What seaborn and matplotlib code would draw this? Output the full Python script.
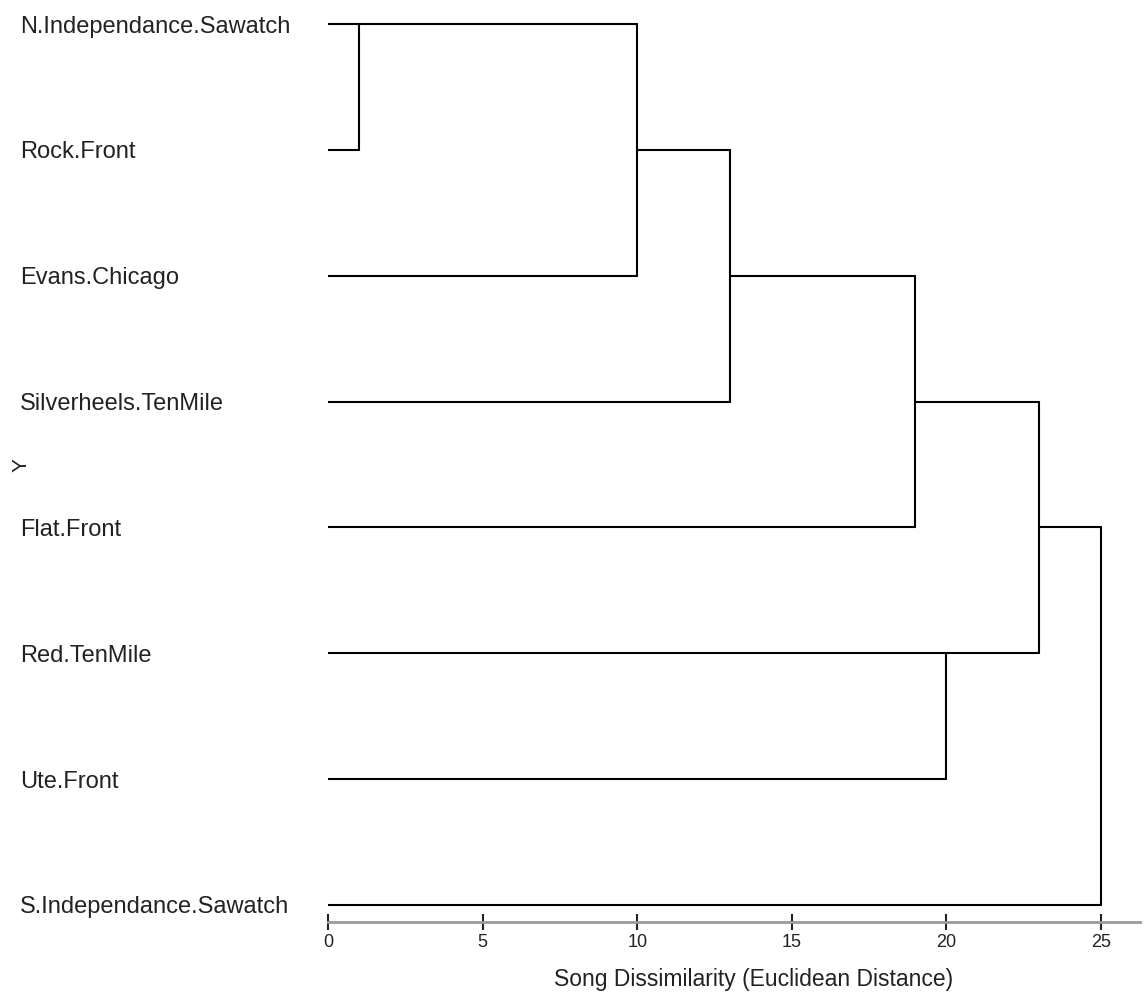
import matplotlib
matplotlib.use("Agg")
import matplotlib.pyplot as plt
import seaborn as sns
import pandas as pd
import numpy as np

# ---- data ----
leaves = ["N.Independance.Sawatch", "Rock.Front", "Evans.Chicago",
          "Silverheels.TenMile", "Flat.Front", "Red.TenMile", "Ute.Front",
          "S.Independance.Sawatch"]
# linkage: (child_a, child_b, distance); new cluster ids start at len(leaves)
merge_a = [0, 8, 9, 10, 5, 11, 13]
merge_b = [1, 2, 3, 4, 6, 12, 7]
merge_dist = [1, 10, 13, 19, 20, 23, 25]
x_ticks = [0, 5, 10, 15, 20, 25]

sns.set_theme(style="white")
plt.rcParams['font.family'] = ['Liberation Sans', 'DejaVu Sans']

# build segments
n = len(leaves)
row = {i: i for i in range(n)}
height = {i: 0.0 for i in range(n)}
recs = []
uid = 0
for k, (a, b, d) in enumerate(zip(merge_a, merge_b, merge_dist)):
    for c in (a, b):
        recs.append(dict(u=uid, x=height[c], y=row[c])); recs.append(dict(u=uid, x=d, y=row[c])); uid += 1
    recs.append(dict(u=uid, x=d, y=row[a])); recs.append(dict(u=uid, x=d, y=row[b])); uid += 1
    cid = n + k
    row[cid] = (row[a] + row[b]) // 2
    height[cid] = d
seg = pd.DataFrame(recs)

W, H = 1144, 994
fig = plt.figure(figsize=(W / 100, H / 100), dpi=100)
# axes spans pixel x 328..1140, y 0..922
ax = fig.add_axes([328 / W, 1 - 922 / H, (1140 - 328) / W, 922 / H])
px_per = (1101 - 328) / 25.0
xmax = (1140 - 328) / px_per
rowh = (905 - 24) / 7.0
ax.set_xlim(0, xmax)
ax.set_ylim((922 - 24) / rowh, -24 / rowh)

sns.lineplot(data=seg, x="x", y="y", units="u", estimator=None, sort=False,
             color="black", lw=1.5, ax=ax, legend=False)

for s in ["top", "right", "left"]:
    ax.spines[s].set_visible(False)
ax.spines["bottom"].set_color("#9a9a9a")
ax.spines["bottom"].set_linewidth(2)
ax.set_xticks(x_ticks)
ax.set_xticklabels([str(t) for t in x_ticks], fontsize=13, color="#222222")
ax.tick_params(axis="x", direction="inout", length=11, width=1.5, color="#222222", pad=3, bottom=True)
ax.set_yticks(range(n))
ax.set_yticklabels(leaves, fontsize=17, color="#222222", ha="left")
ax.tick_params(axis="y", length=0, pad=(328 - 20) * 0.72)
ax.set_xlabel("Song Dissimilarity (Euclidean Distance)", fontsize=16.5, color="#222222")
ax.xaxis.set_label_coords((754 - 328) / 812, (922 - 968) / 922)
ax.set_ylabel("")
ax.grid(False)
fig.text(21 / W, 1 - 465 / H, "Y", rotation=90, fontsize=15, color="#222222", ha="center", va="center")

fig.savefig("out.png", dpi=100, facecolor="white")
